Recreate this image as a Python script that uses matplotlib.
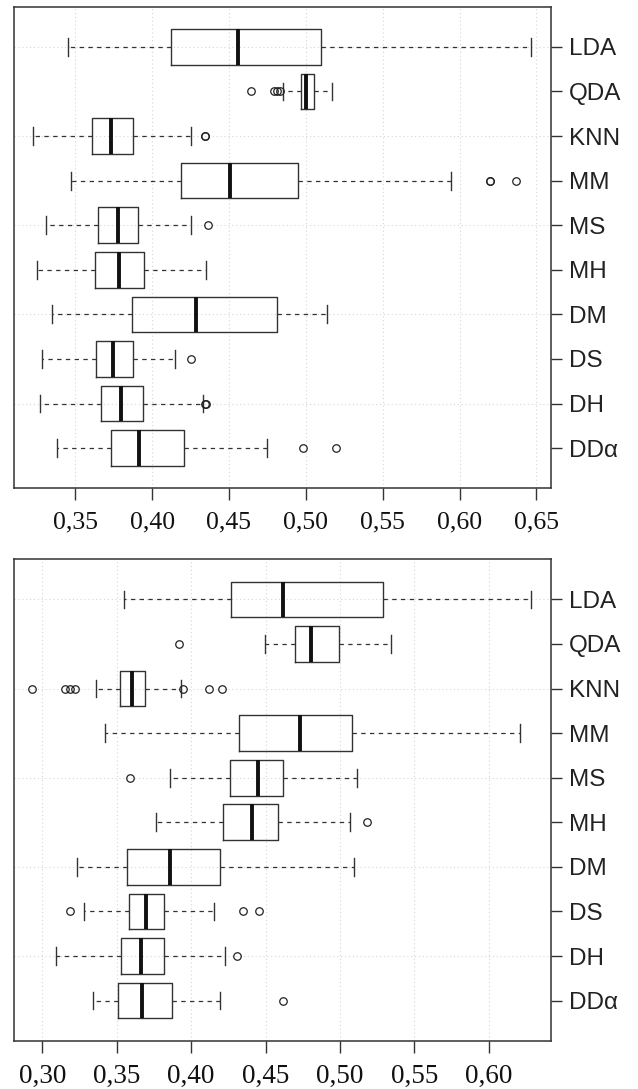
import matplotlib
matplotlib.use("Agg")
import matplotlib.pyplot as plt
from matplotlib.ticker import FixedLocator, FuncFormatter

methods = ["LDA", "QDA", "KNN", "MM", "MS", "MH", "DM", "DS", "DH", "DDα"]

# ---- top panel ----
top_whislo = [0.3455, 0.4850, 0.3227, 0.3471, 0.3310, 0.3251, 0.3346, 0.3286, 0.3270, 0.3378]
top_q1     = [0.4124, 0.4970, 0.3611, 0.4187, 0.3645, 0.3629, 0.3870, 0.3635, 0.3667, 0.3730]
top_med    = [0.4556, 0.5002, 0.3730, 0.4508, 0.3778, 0.3786, 0.4286, 0.3748, 0.3796, 0.3917]
top_q3     = [0.5098, 0.5050, 0.3878, 0.4952, 0.3907, 0.3947, 0.4810, 0.3878, 0.3939, 0.4209]
top_whishi = [0.6463, 0.5167, 0.4254, 0.5944, 0.4254, 0.4352, 0.5135, 0.4148, 0.4328, 0.4746]
top_fliers = [[], [0.4646, 0.4791, 0.4813, 0.4835], [0.4341, 0.4345], [0.6195, 0.6200, 0.6370],
              [0.4365], [], [], [0.4256], [0.4346, 0.4350], [0.4984, 0.5193]]
top_ticks = [0.35, 0.40, 0.45, 0.50, 0.55, 0.60, 0.65]

# ---- bottom panel ----
bot_whislo = [0.3549, 0.4497, 0.3359, 0.3423, 0.3861, 0.3762, 0.3232, 0.3281, 0.3090, 0.3341]
bot_q1     = [0.4270, 0.4699, 0.3521, 0.4320, 0.4259, 0.4216, 0.3570, 0.3579, 0.3527, 0.3508]
bot_med    = [0.4615, 0.4806, 0.3600, 0.4732, 0.4451, 0.4407, 0.3857, 0.3697, 0.3664, 0.3672]
bot_q3     = [0.5290, 0.4992, 0.3689, 0.5079, 0.4620, 0.4582, 0.4191, 0.3820, 0.3820, 0.3869]
bot_whishi = [0.6281, 0.5344, 0.3930, 0.6213, 0.5115, 0.5066, 0.5095, 0.4156, 0.4226, 0.4197]
bot_fliers = [[], [0.3915], [0.2933, 0.3150, 0.3184, 0.3218, 0.3948, 0.4123, 0.4207], [],
              [0.3587], [0.5183], [], [0.3189, 0.4347, 0.4459], [0.4306], [0.4615]]
bot_ticks = [0.30, 0.35, 0.40, 0.45, 0.50, 0.55, 0.60]

W, H = 638, 1089
fig = plt.figure(figsize=(W / 100, H / 100), dpi=100)
fig.patch.set_facecolor("white")

edge = "#333333"


def panel(rect, whislo, q1, med, q3, whishi, fliers, ticks, xlim, xfs, xpad):
    ax = fig.add_axes(rect)
    n = len(methods)
    positions = list(range(n, 0, -1))
    stats = []
    for i in range(n):
        stats.append(dict(med=med[i], q1=q1[i], q3=q3[i], whislo=whislo[i],
                          whishi=whishi[i], fliers=fliers[i], label=methods[i]))
    ax.bxp(stats, positions=positions, vert=False, widths=0.8, capwidths=0.4,
           showfliers=True, patch_artist=False,
           boxprops=dict(color=edge, linewidth=1.0),
           medianprops=dict(color="#111111", linewidth=2.8, solid_capstyle="butt"),
           whiskerprops=dict(color=edge, linewidth=0.9, linestyle=(0, (3.5, 3.5))),
           capprops=dict(color=edge, linewidth=1.0),
           flierprops=dict(marker="o", markersize=5.4, markerfacecolor="none",
                           markeredgecolor="#222222", markeredgewidth=0.9, linestyle="none"),
           zorder=3)
    ax.set_xlim(*xlim)
    ax.set_ylim(0.1, n + 0.9)
    # grid
    for t in ticks:
        ax.axvline(t, color="#d6d6d6", linestyle=(0, (1, 2.5)), linewidth=0.8, zorder=1)
    for p in [2, 4, 6, 8, 10]:
        ax.axhline(p, color="#d6d6d6", linestyle=(0, (1, 2.5)), linewidth=0.8, zorder=1)
    ax.xaxis.set_major_locator(FixedLocator(ticks))
    ax.xaxis.set_major_formatter(FuncFormatter(lambda v, p: f"{v:.2f}".replace(".", ",")))
    ax.set_yticks(positions)
    ax.set_yticklabels(methods)
    ax.yaxis.tick_right()
    ax.tick_params(axis="y", which="both", left=False, right=True, length=8.2, width=1.0,
                   color=edge, pad=5, labelsize=17.5, labelcolor="#222222")
    ax.tick_params(axis="x", length=8.6, width=1.0, color=edge, pad=xpad, labelcolor="#111111")
    for lab in ax.get_yticklabels():
        lab.set_family("Liberation Sans")
    for lab in ax.get_xticklabels():
        lab.set_family("Liberation Serif")
        lab.set_fontsize(xfs)
    for s in ax.spines.values():
        s.set_color(edge)
        s.set_linewidth(1.1)
    ax.set_facecolor("white")
    return ax


left = 13.8 / W
right = 551.0 / W
panel([left, 1 - 488.3 / H, right - left, (488.3 - 6.7) / H],
      top_whislo, top_q1, top_med, top_q3, top_whishi, top_fliers,
      top_ticks, (0.3100, 0.6595), 18.5, 8)
panel([left, 1 - 1040.7 / H, right - left, (1040.7 - 559.3) / H],
      bot_whislo, bot_q1, bot_med, bot_q3, bot_whishi, bot_fliers,
      bot_ticks, (0.2808, 0.6418), 19.5, 8)

fig.savefig("out.png", dpi=100, facecolor="white")
